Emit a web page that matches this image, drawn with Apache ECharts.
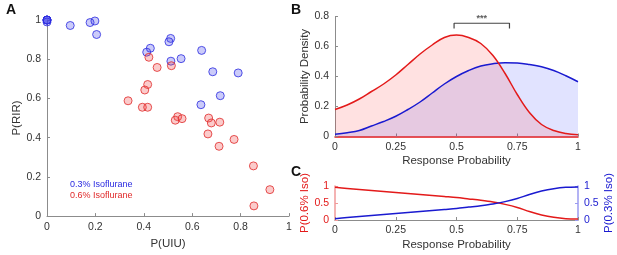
<!DOCTYPE html>
<html>
<head>
<meta charset="utf-8">
<script src="https://cdn.jsdelivr.net/npm/echarts@6/dist/echarts.min.js"></script>
<style>html,body{margin:0;padding:0;background:#fff}#c{width:617px;height:255px}</style>
</head>
<body>
<div id="c"></div>
<script>
// Panel A: scatter P(UIU) vs P(RIR)
const blueX = [0, 0, 0, 0, 0, 0.096, 0.178, 0.198, 0.205, 0.511, 0.504, 0.427, 0.412, 0.512, 0.554, 0.639, 0.636, 0.716, 0.685, 0.790];
const blueY = [1.0, 1.0, 1.0, 1.0, 0.99, 0.972, 0.987, 0.995, 0.926, 0.906, 0.889, 0.856, 0.836, 0.790, 0.803, 0.845, 0.568, 0.614, 0.736, 0.730];
const redX = [0.421, 0.455, 0.514, 0.416, 0.404, 0.335, 0.394, 0.416, 0.540, 0.530, 0.558, 0.668, 0.679, 0.714, 0.665, 0.773, 0.711, 0.853, 0.921, 0.855];
const redY = [0.810, 0.758, 0.767, 0.671, 0.643, 0.588, 0.555, 0.555, 0.507, 0.489, 0.497, 0.500, 0.475, 0.479, 0.419, 0.391, 0.356, 0.256, 0.135, 0.052];
const legendNames = ['0.3% Isoflurane', '0.6% Isoflurane'];

// Panel B: probability densities
const respX = [0, 0.05, 0.1, 0.15, 0.2, 0.25, 0.3, 0.35, 0.4, 0.45, 0.5, 0.55, 0.6, 0.65, 0.7, 0.75, 0.8, 0.85, 0.9, 0.95, 1.0];
const densRed = [0.18, 0.21, 0.25, 0.30, 0.35, 0.41, 0.48, 0.55, 0.61, 0.66, 0.676, 0.66, 0.62, 0.54, 0.42, 0.28, 0.16, 0.08, 0.04, 0.02, 0.012];
const densBlue = [0.015, 0.025, 0.04, 0.07, 0.10, 0.135, 0.18, 0.23, 0.29, 0.35, 0.40, 0.44, 0.47, 0.485, 0.492, 0.49, 0.48, 0.465, 0.44, 0.405, 0.365];
const sigBracketX = [0.49, 0.49, 0.718, 0.718];
const sigBracketY = [0.72, 0.755, 0.755, 0.72];
const sigLabel = '***';

// Panel C: posterior probabilities
const probRed = [0.96, 0.93, 0.90, 0.87, 0.84, 0.81, 0.78, 0.75, 0.72, 0.69, 0.66, 0.62, 0.58, 0.53, 0.46, 0.37, 0.25, 0.15, 0.08, 0.04, 0.03];
const probBlue = [0.04, 0.07, 0.10, 0.13, 0.16, 0.19, 0.22, 0.25, 0.28, 0.31, 0.34, 0.38, 0.42, 0.47, 0.54, 0.63, 0.75, 0.85, 0.92, 0.96, 0.97];

const zip = (a, b) => a.map((v, i) => [v, b[i]]);
const FONT = 'Liberation Sans, Arial, Helvetica, sans-serif';
const AX = '#8c8c8c', TXT = '#333';
const RED = '#e31a1a', BLUE = '#1a1ad0';
const TICKFS = 10.5, NAMEFS = 11.5;

function valAxis(extra) {
  return Object.assign({
    type: 'value',
    axisLine: { show: true, lineStyle: { color: AX, width: 1 } },
    axisTick: { show: true, inside: true, length: 3, lineStyle: { color: AX } },
    splitLine: { show: false },
    axisLabel: { color: TXT, fontSize: TICKFS, fontFamily: FONT, margin: 6 },
    nameLocation: 'middle',
    nameTextStyle: { color: TXT, fontSize: NAMEFS, fontFamily: FONT }
  }, extra);
}

const chart = echarts.init(document.getElementById('c'), null, { renderer: 'canvas' });
chart.setOption({
  animation: false,
  textStyle: { fontFamily: FONT },
  grid: [
    { left: 47, right: 328, top: 20, bottom: 33.5 },
    { left: 335, right: 39, top: 16.5, bottom: 118.5 },
    { left: 335, right: 39, top: 186, bottom: 35 }
  ],
  xAxis: [
    valAxis({ gridIndex: 0, min: 0, max: 1, interval: 0.2, name: 'P(UIU)', nameGap: 19 }),
    valAxis({ gridIndex: 1, min: 0, max: 1, interval: 0.25, name: 'Response Probability', nameGap: 18,
      axisLine: { show: true, lineStyle: { color: RED, width: 1.5 } }, axisLabel: { color: TXT, fontSize: TICKFS, fontFamily: FONT, margin: 5 } }),
    valAxis({ gridIndex: 2, min: 0, max: 1, interval: 0.25, name: 'Response Probability', nameGap: 19,
      axisLabel: { color: TXT, fontSize: TICKFS, fontFamily: FONT, margin: 5 } })
  ],
  yAxis: [
    valAxis({ gridIndex: 0, min: 0, max: 1, interval: 0.2, name: 'P(RIR)', nameGap: 23 }),
    valAxis({ gridIndex: 1, min: 0, max: 0.8, interval: 0.2, name: 'Probability Density', nameGap: 21 }),
    valAxis({ gridIndex: 2, min: 0, max: 1, interval: 0.5, name: 'P(0.6% Iso)', nameGap: 16, position: 'left',
      axisLine: { show: true, lineStyle: { color: '#f09a9a', width: 1.5 } },
      axisTick: { show: true, inside: true, length: 3, lineStyle: { color: '#f09a9a' } },
      axisLabel: { color: RED, fontSize: TICKFS, fontFamily: FONT, margin: 6 },
      nameTextStyle: { color: RED, fontSize: NAMEFS, fontFamily: FONT } }),
    valAxis({ gridIndex: 2, min: 0, max: 1, interval: 0.5, name: 'P(0.3% Iso)', nameGap: 20, position: 'right',
      axisLine: { show: true, lineStyle: { color: '#9a9af0', width: 1.5 } },
      axisTick: { show: true, inside: true, length: 3, lineStyle: { color: '#9a9af0' } },
      axisLabel: { color: BLUE, fontSize: TICKFS, fontFamily: FONT, margin: 6 },
      nameTextStyle: { color: BLUE, fontSize: NAMEFS, fontFamily: FONT } })
  ],
  series: [
    { type: 'scatter', name: legendNames[0], xAxisIndex: 0, yAxisIndex: 0, data: zip(blueX, blueY), symbolSize: 8,
      itemStyle: { color: 'rgba(70,70,235,0.35)', borderColor: '#2a2ae0', borderWidth: 1 } },
    { type: 'scatter', name: legendNames[1], xAxisIndex: 0, yAxisIndex: 0, data: zip(redX, redY), symbolSize: 8,
      itemStyle: { color: 'rgba(240,70,70,0.35)', borderColor: '#e02a2a', borderWidth: 1 } },
    { type: 'line', xAxisIndex: 1, yAxisIndex: 1, data: zip(respX, densBlue), smooth: 0.4, showSymbol: false,
      lineStyle: { color: BLUE, width: 1.5 }, areaStyle: { color: 'rgba(40,60,255,0.2)', origin: 'start' } },
    { type: 'line', xAxisIndex: 1, yAxisIndex: 1, data: zip(respX, densRed), smooth: 0.4, showSymbol: false,
      lineStyle: { color: RED, width: 1.5 }, areaStyle: { color: 'rgba(255,40,40,0.2)', origin: 'start' } },
    { type: 'line', xAxisIndex: 1, yAxisIndex: 1, data: zip(sigBracketX, sigBracketY), showSymbol: false,
      lineStyle: { color: '#444', width: 1.2 } },
    { type: 'scatter', xAxisIndex: 1, yAxisIndex: 1, data: [[(sigBracketX[0] + sigBracketX[3]) / 2, sigBracketY[1]]], symbolSize: 0,
      label: { show: true, formatter: sigLabel, position: 'top', distance: 0, color: '#333', fontSize: 9, fontWeight: 'bold', fontFamily: FONT } },
    { type: 'line', xAxisIndex: 2, yAxisIndex: 2, data: zip(respX, probRed), smooth: 0.3, showSymbol: false,
      lineStyle: { color: RED, width: 1.5 } },
    { type: 'line', xAxisIndex: 2, yAxisIndex: 3, data: zip(respX, probBlue), smooth: 0.3, showSymbol: false,
      lineStyle: { color: BLUE, width: 1.5 } }
  ],
  graphic: [
    { type: 'text', left: 6, top: 3, style: { text: 'A', font: 'bold 14px ' + FONT, fill: '#111' } },
    { type: 'text', left: 291, top: 3, style: { text: 'B', font: 'bold 14px ' + FONT, fill: '#111' } },
    { type: 'text', left: 291, top: 165, style: { text: 'C', font: 'bold 14px ' + FONT, fill: '#111' } },
    { type: 'text', left: 70, top: 180, style: { text: legendNames[0], font: '9px ' + FONT, fill: '#2a2ae0' } },
    { type: 'text', left: 70, top: 191, style: { text: legendNames[1], font: '9px ' + FONT, fill: '#e02a2a' } }
  ]
});
</script>
</body>
</html>
